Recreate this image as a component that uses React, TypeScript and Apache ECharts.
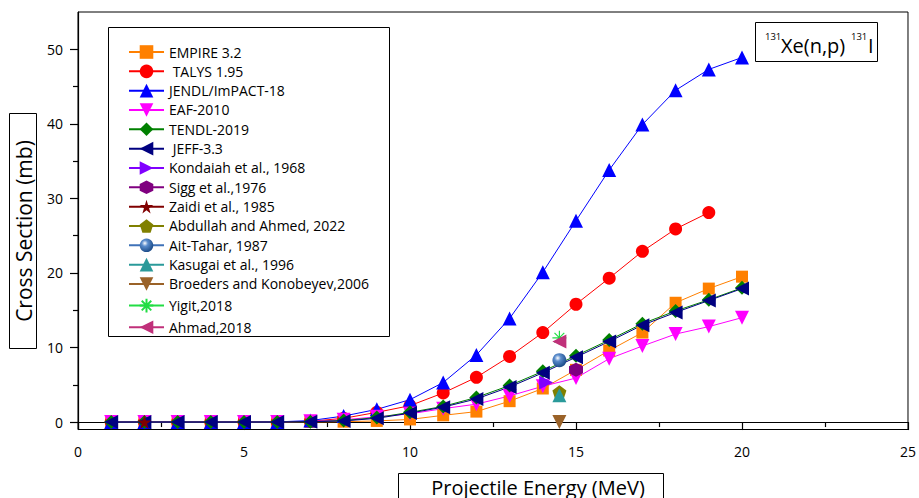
import React, { useEffect, useRef } from "react";
import * as echarts from "echarts";

const energies = [1, 2, 3, 4, 5, 6, 7, 8, 9, 10, 11, 12, 13, 14, 15, 16, 17, 18, 19, 20];
const empire = [0, 0, 0, 0, 0, 0, 0.02, 0.05, 0.15, 0.35, 0.9, 1.4, 2.8, 4.5, 7.0, 9.6, 12.0, 16.0, 17.9, 19.5];
const talys = [0, 0, 0, 0, 0, 0, 0.1, 0.5, 1.3, 2.2, 3.9, 6.0, 8.8, 12.0, 15.8, 19.3, 22.9, 25.9, 28.1];
const jendl = [0, 0, 0, 0, 0, 0.02, 0.2, 0.8, 1.7, 3.0, 5.3, 9.0, 13.9, 20.1, 27.0, 33.8, 39.9, 44.5, 47.3, 48.9];
const eaf = [0, 0, 0, 0, 0, 0, 0.1, 0.3, 0.7, 1.1, 1.8, 2.4, 3.5, 4.8, 5.9, 8.5, 10.2, 11.8, 12.8, 14.0];
const tendl = [0, 0, 0, 0, 0, 0, 0.05, 0.2, 0.6, 1.3, 2.1, 3.3, 4.9, 6.8, 8.9, 11.0, 13.2, 14.9, 16.4, 18.0];
const jeff = [0, 0, 0, 0, 0, 0, 0.05, 0.15, 0.5, 1.2, 2.0, 3.1, 4.7, 6.6, 8.7, 10.8, 13.0, 14.7, 16.3, 17.9];

const kondaiah = [[14.1, 5.3]];
const sigg = [[15.0, 7.0]];
const zaidi = [[2.0, 0]];
const abdullah = [[14.5, 4.0]];
const aitTahar = [[14.5, 8.3]];
const kasugai = [[14.5, 3.6]];
const broeders = [[14.5, 0.0]];
const yigit = [[14.5, 11.3]];
const ahmad = [[14.5, 10.8]];

const yMajor = [0, 10, 20, 30, 40, 50];
const yMinor = [5, 15, 25, 35, 45];

const STAR = "path://M50,0 L61,35 L98,35 L68,57 L79,91 L50,70 L21,91 L32,57 L2,35 L39,35 Z";
const HEX = "path://M50,0 L93,25 L93,75 L50,100 L7,75 L7,25 Z";
const PENT = "path://M50,0 L98,35 L79,91 L21,91 L2,35 Z";
const AST = "path://M50,0 L50,100 M0,50 L100,50 M15,15 L85,85 M15,85 L85,15";

const FONT = "'Open Sans', 'Noto Sans', sans-serif";

function pair(xs: number[], ys: number[]) {
  return ys.map((y, i) => [xs[i], y]);
}

function lineSeries(name: string, data: number[][], color: string, symbol: string, extra: any = {}) {
  return {
    type: "line",
    name,
    data,
    symbol,
    symbolSize: 13,
    lineStyle: { color, width: 1 },
    itemStyle: { color },
    emphasis: { disabled: true },
    ...extra,
  };
}

export default function App() {
  const ref = useRef<HTMLDivElement>(null);
  useEffect(() => {
    if (!ref.current) return;
    const chart = echarts.init(ref.current, undefined, { renderer: "svg" });
    const sphere = {
      type: "radial",
      x: 0.38,
      y: 0.35,
      r: 0.65,
      colorStops: [
        { offset: 0, color: "#ffffff" },
        { offset: 0.35, color: "#5a8ccc" },
        { offset: 1, color: "#1d4d8a" },
      ],
    };
    const series: any[] = [
      lineSeries("EMPIRE 3.2", pair(energies, empire), "#FF8000", "rect", { symbolSize: 12 }),
      lineSeries(" TALYS 1.95", pair(energies, talys), "#FF0000", "circle"),
      lineSeries("JENDL/ImPACT-18", pair(energies, jendl), "#0000FF", "triangle", { symbolSize: 14 }),
      lineSeries("EAF-2010", pair(energies, eaf), "#FF00FF", "triangle", { symbolSize: 14, symbolRotate: 180 }),
      lineSeries("TENDL-2019", pair(energies, tendl), "#008000", "diamond", { symbolSize: 14 }),
      lineSeries(" JEFF-3.3", pair(energies, jeff), "#000080", "triangle", { symbolSize: 14, symbolRotate: 90 }),
      lineSeries("Kondaiah et al., 1968", kondaiah, "#8000FF", "triangle", { symbolSize: 14, symbolRotate: -90 }),
      lineSeries("Sigg et al.,1976", sigg, "#800080", HEX, { symbolSize: 14 }),
      lineSeries("Zaidi et al., 1985", zaidi, "#800000", STAR, { symbolSize: 14 }),
      lineSeries("Abdullah and Ahmed, 2022", abdullah, "#808000", PENT, { symbolSize: 14 }),
      lineSeries("Ait-Tahar, 1987", aitTahar, "#3f72b8", "circle", {
        symbolSize: 14,
        itemStyle: { color: sphere },
      }),
      lineSeries("Kasugai et al., 1996", kasugai, "#2a9a9a", "triangle", { symbolSize: 14 }),
      lineSeries("Broeders and Konobeyev,2006", broeders, "#9a6228", "triangle", { symbolSize: 14, symbolRotate: 180 }),
      lineSeries("Yigit,2018", yigit, "#22dd44", AST, {
        symbolSize: 14,
        itemStyle: { color: "none", borderColor: "#22dd44", borderWidth: 1.2 },
      }),
      lineSeries("Ahmad,2018", ahmad, "#c0307a", "triangle", { symbolSize: 14, symbolRotate: 90 }),
    ];

    chart.setOption({
      animation: false,
      textStyle: { fontFamily: FONT },
      grid: {
        left: 78,
        right: 4,
        top: 12,
        bottom: 68.5,
        show: true,
        borderColor: "#000",
        borderWidth: 1,
        backgroundColor: "transparent",
      },
      legend: {
        orient: "vertical",
        left: 128,
        top: 45,
        padding: 0,
        itemWidth: 35,
        itemHeight: 17,
        itemGap: 5.33,
        selectedMode: false,
        textStyle: { fontSize: 14, lineHeight: 14, color: "#000", fontFamily: FONT },
        data: series.map((s) => s.name),
      },
      xAxis: {
        type: "value",
        min: 0,
        max: 25,
        interval: 5,
        axisLine: { lineStyle: { color: "#000", width: 1.2 } },
        axisTick: { show: true, length: 8, lineStyle: { color: "#000", width: 1.2 } },
        minorTick: { show: true, splitNumber: 2, length: 5, lineStyle: { color: "#000", width: 1.2 } },
        splitLine: { show: false },
        axisLabel: { fontSize: 14, color: "#000", margin: 15, fontFamily: FONT },
      },
      yAxis: [
        {
          type: "value",
          min: -1,
          max: 55,
          axisLine: { show: true, lineStyle: { color: "#000", width: 1.2 } },
          axisTick: { show: true, length: 8, customValues: yMajor, lineStyle: { color: "#000", width: 1.2 } },
          splitLine: { show: false },
          axisLabel: { fontSize: 14, color: "#000", margin: 15, customValues: yMajor, fontFamily: FONT },
        },
        {
          type: "value",
          min: -1,
          max: 55,
          position: "left",
          axisLine: { show: false },
          axisTick: { show: true, length: 5, customValues: yMinor, lineStyle: { color: "#000", width: 1.2 } },
          splitLine: { show: false },
          axisLabel: { show: false, customValues: yMinor },
        },
      ],
      series,
      graphic: [
        {
          type: "rect",
          shape: { x: 108.5, y: 27.5, width: 281, height: 309 },
          style: { fill: "none", stroke: "#000", lineWidth: 1 },
          z: 1,
        },
        {
          type: "rect",
          shape: { x: 755.5, y: 22.5, width: 122, height: 39 },
          style: { fill: "#fff", stroke: "#000", lineWidth: 1 },
          z: 10,
        },
        { type: "text", x: 765, y: 36, z: 11, style: { text: "131", font: `9.5px ${FONT}`, fill: "#000", verticalAlign: "middle" } },
        { type: "text", x: 781, y: 45, z: 11, style: { text: "Xe(n,p)", font: `20px ${FONT}`, fill: "#000", verticalAlign: "middle" } },
        { type: "text", x: 851, y: 36, z: 11, style: { text: "131", font: `9.5px ${FONT}`, fill: "#000", verticalAlign: "middle" } },
        { type: "text", x: 868, y: 45, z: 11, style: { text: "I", font: `20px ${FONT}`, fill: "#000", verticalAlign: "middle" } },
        {
          type: "rect",
          shape: { x: 9.5, y: 113.5, width: 27, height: 235 },
          style: { fill: "#fff", stroke: "#000", lineWidth: 1 },
          z: 10,
        },
        {
          type: "text",
          x: 24,
          y: 231,
          rotation: Math.PI / 2,
          z: 11,
          style: { text: "Cross Section (mb)", font: `21px ${FONT}`, fill: "#000", align: "center", verticalAlign: "middle" },
        },
        {
          type: "rect",
          shape: { x: 398.5, y: 473.5, width: 265, height: 40 },
          style: { fill: "#fff", stroke: "#000", lineWidth: 1 },
          z: 10,
        },
        {
          type: "text",
          x: 538,
          y: 487.5,
          z: 11,
          style: { text: "Projectile Energy (MeV)", font: `20px ${FONT}`, fill: "#000", align: "center", verticalAlign: "middle" },
        },
      ],
    });
    return () => chart.dispose();
  }, []);
  return <div ref={ref} style={{ width: 919, height: 498, position: "absolute", left: 0, top: 0 }} />;
}
